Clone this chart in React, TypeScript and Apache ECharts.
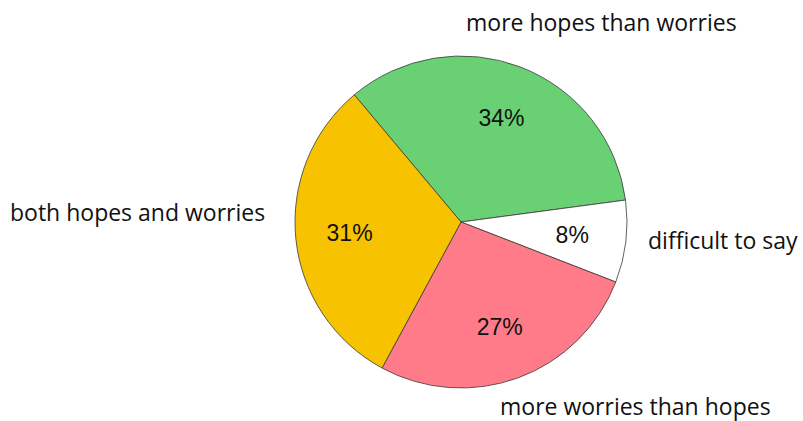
import React, { useEffect, useRef } from "react";
import * as echarts from "echarts";

const categories = ["more hopes than worries", "difficult to say", "more worries than hopes", "both hopes and worries"];
const values = [34, 8, 27, 31];
const colors = ["#69D174", "#FFFFFF", "#FF7B89", "#F7C300"];
// outer label anchor positions (left x, middle y)
const labelPos: [number, number][] = [
  [466, 22],
  [648, 240],
  [500, 406],
  [10, 212],
];

export default function App() {
  const ref = useRef<HTMLDivElement>(null);
  useEffect(() => {
    if (!ref.current) return;
    const chart = echarts.init(ref.current, null, { renderer: "svg" });
    const data = categories.map((name, i) => ({ name, value: values[i], itemStyle: { color: colors[i] } }));
    chart.setOption({
      animation: false,
      backgroundColor: "#ffffff",
      series: [
        {
          type: "pie",
          center: [461, 222],
          radius: [0, 166],
          startAngle: 130,
          clockwise: true,
          silent: true,
          data,
          itemStyle: { borderColor: "#3a3a3a", borderWidth: 0.8 },
          label: { show: false },
          labelLine: { show: false },
        },
        {
          type: "pie",
          center: [461, 222],
          radius: [0, 218],
          startAngle: 130,
          clockwise: true,
          silent: true,
          data: categories.map((name, i) => ({ name, value: values[i] })),
          itemStyle: { color: "transparent", borderWidth: 0 },
          label: {
            show: true,
            position: "inside",
            formatter: (p: any) => p.value + "%",
            fontFamily: "Liberation Sans, Arial, sans-serif",
            fontSize: 23,
            color: "#111111",
          },
          labelLine: { show: false },
        },
      ],
      graphic: categories.map((name, i) => ({
        type: "text",
        x: labelPos[i][0],
        y: labelPos[i][1],
        style: {
          text: name,
          fontFamily: "Open Sans, sans-serif",
          fontSize: 23,
          fill: "#111111",
          textAlign: "left",
          textVerticalAlign: "middle",
        },
      })),
    });
    return () => chart.dispose();
  }, []);
  return <div ref={ref} style={{ position: "absolute", left: 0, top: 0, width: 803, height: 421 }} />;
}
